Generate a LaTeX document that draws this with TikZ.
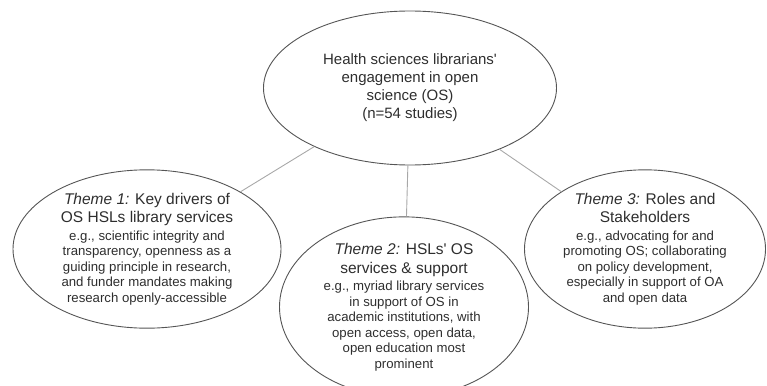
\documentclass[tikz,border=0pt]{standalone}
\usepackage{fontspec}
\setmainfont{Liberation Sans}
\usetikzlibrary{shapes.geometric}
\definecolor{bordgris}{HTML}{555555}
\definecolor{liengris}{HTML}{A8A8A8}
\definecolor{textegris}{HTML}{2E2E2E}
\newcommand{\titretheme}[1]{{\fontsize{15.5}{18}\selectfont #1}}

\begin{document}
\begin{tikzpicture}[x=1pt,y=-1pt]
        % Définition des styles
        \tikzset{
            bulle/.style={ellipse, draw=bordgris, line width=0.9pt, inner sep=0pt,
                         align=center, text=textegris, font=\fontsize{13.2}{15.5}\selectfont},
            lien/.style={draw=liengris, line width=0.9pt}
        }
        \useasboundingbox (0,0) rectangle (767,385);

        % Ellipse centrale
        \node[bulle, minimum width=293, minimum height=154, font=\fontsize{15}{18}\selectfont]
            (centre) at (410,88) {Health sciences librarians\textquotesingle\\engagement in open\\science (OS)\\(n=54 studies)};

        % Thèmes
        \node[bulle, minimum width=268, minimum height=153] (theme1) at (147,249)
            {\titretheme{\textit{Theme 1:} Key drivers of}\\[3pt]
             \titretheme{OS HSLs library services}\\[2pt]
             e.g., scientific integrity and\\transparency, openness as a\\guiding principle in research,\\and funder mandates making\\research openly-accessible};
        \node[bulle, minimum width=249, minimum height=152] (theme2) at (404,307)
            {\titretheme{\textit{Theme 2:} HSLs\textquotesingle{} OS}\\[3pt]
             \titretheme{services \& support}\\[2pt]
             e.g., myriad library services\\in support of OS in\\academic institutions, with\\open access, open data,\\open education most\\prominent};
        \node[bulle, minimum width=241, minimum height=144] (theme3) at (645,249)
            {\titretheme{\textit{Theme 3:} Roles and}\\[3pt]
             \titretheme{Stakeholders}\\[2pt]
             e.g., advocating for and\\promoting OS; collaborating\\on policy development,\\especially in support of OA\\and open data};

        % Liaisons
        \draw[lien] (centre) -- (theme1);
        \draw[lien] (centre) -- (theme2);
        \draw[lien] (centre) -- (theme3);
\end{tikzpicture}
\end{document}
